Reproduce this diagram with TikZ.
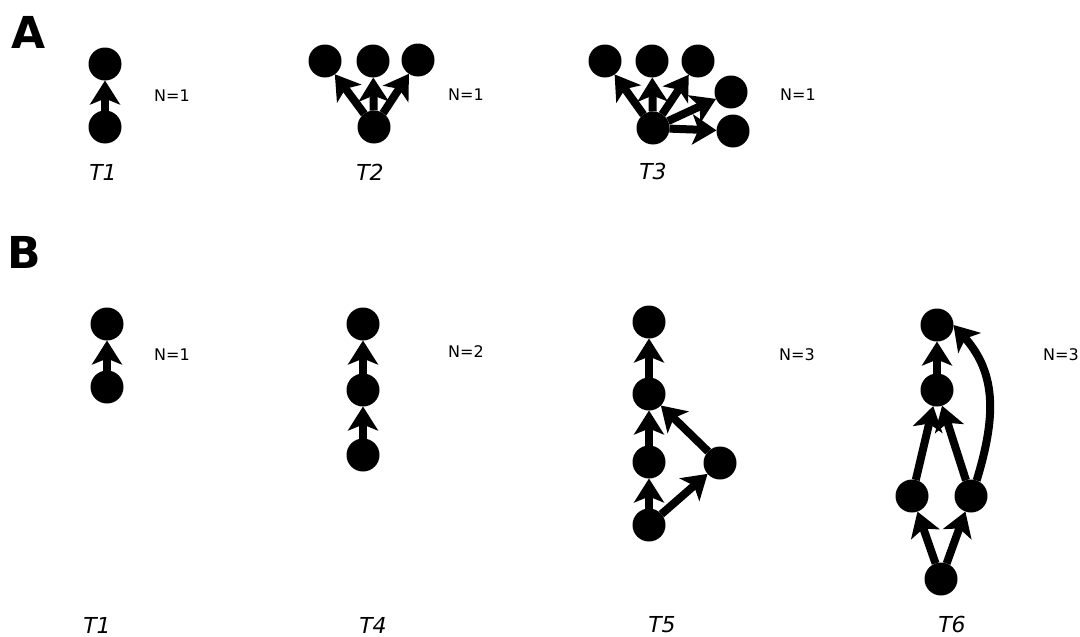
\documentclass[tikz,border=0pt]{standalone}
\usepackage{fontspec}
\setmainfont{DejaVu Sans}
\usetikzlibrary{arrows.meta}
\tikzset{
  vert/.style={circle, fill=black, draw=none, minimum size=33pt, inner sep=0pt, outer sep=0pt},
  edge/.style={line width=8pt, draw=black, -{Stealth[length=24pt, width=30pt, inset=6pt]}},
  count/.style={font=\fontsize{16}{18}\selectfont},
  tname/.style={font=\fontsize{22}{24}\selectfont\itshape, inner sep=0pt},
  panel/.style={font=\fontsize{44}{48}\selectfont\bfseries}
}
\begin{document}
\begin{tikzpicture}[x=1pt, y=-1pt]
\path[use as bounding box] (0,0) rectangle (1080,637);

% panel letters
\node[panel] (pA) at (29,32) {A};
\node[panel] (pB) at (24,252) {B};

% ---- A: T1
\node[vert] (a1t) at (105,64) {};
\node[vert] (a1b) at (105,127) {};
\draw[edge] (a1b) -- (a1t);
\node[count] (a1n) at (172,96) {N=1};
\node[tname] (a1l) at (103,172) {T1};

% ---- A: T2
\node[vert] (a2a) at (325,61) {};
\node[vert] (a2b) at (373,61) {};
\node[vert] (a2c) at (418,60) {};
\node[vert] (a2r) at (374,127) {};
\draw[edge] (a2r) -- (a2a);
\draw[edge] (a2r) -- (a2b);
\draw[edge] (a2r) -- (a2c);
\node[count] (a2n) at (466,95) {N=1};
\node[tname] (a2l) at (370,172) {T2};

% ---- A: T3
\node[vert] (a3a) at (605,61) {};
\node[vert] (a3b) at (652,61) {};
\node[vert] (a3c) at (698,61) {};
\node[vert] (a3d) at (731,92) {};
\node[vert] (a3e) at (733,131) {};
\node[vert] (a3r) at (653,128) {};
\draw[edge] (a3r) -- (a3a);
\draw[edge] (a3r) -- (a3b);
\draw[edge] (a3r) -- (a3c);
\draw[edge] (a3r) -- (a3d);
\draw[edge] (a3r) -- (a3e);
\node[count] (a3n) at (798,95) {N=1};
\node[tname] (a3l) at (653,171) {T3};

% ---- B: T1
\node[vert] (b1t) at (107,324) {};
\node[vert] (b1b) at (107,387) {};
\draw[edge] (b1b) -- (b1t);
\node[count] (b1n) at (172,355) {N=1};
\node[tname] (b1l) at (97,625) {T1};

% ---- B: T4
\node[vert] (b4a) at (363,324) {};
\node[vert] (b4b) at (363,390) {};
\node[vert] (b4c) at (363,455) {};
\draw[edge] (b4c) -- (b4b);
\draw[edge] (b4b) -- (b4a);
\node[count] (b4n) at (466,352) {N=2};
\node[tname] (b4l) at (373,625) {T4};

% ---- B: T5
\node[vert] (b5a) at (649,322) {};
\node[vert] (b5b) at (649,394) {};
\node[vert] (b5c) at (649,462) {};
\node[vert] (b5d) at (649,525) {};
\node[vert] (b5e) at (720,463) {};
\draw[edge] (b5d) -- (b5c);
\draw[edge] (b5c) -- (b5b);
\draw[edge] (b5b) -- (b5a);
\draw[edge] (b5d) -- (b5e);
\draw[edge] (b5e) -- (b5b);
\node[count] (b5n) at (797,355) {N=3};
\node[tname] (b5l) at (662,625) {T5};

% ---- B: T6
\node[vert] (b6a) at (937,325) {};
\node[vert] (b6b) at (937,390) {};
\node[vert] (b6c) at (912,496) {};
\node[vert] (b6d) at (971,496) {};
\node[vert] (b6e) at (941,579) {};
\draw[edge] (b6e) -- (b6c);
\draw[edge] (b6e) -- (b6d);
\draw[edge] (b6c) -- (b6b);
\draw[edge] (b6d) -- (b6b);
\draw[edge] (b6b) -- (b6a);
\draw[edge] (b6d.70) .. controls (995,420) and (998,375) .. (b6a.east);
\node[count] (b6n) at (1061,355) {N=3};
\node[tname] (b6l) at (952,624) {T6};
\end{tikzpicture}
\end{document}
